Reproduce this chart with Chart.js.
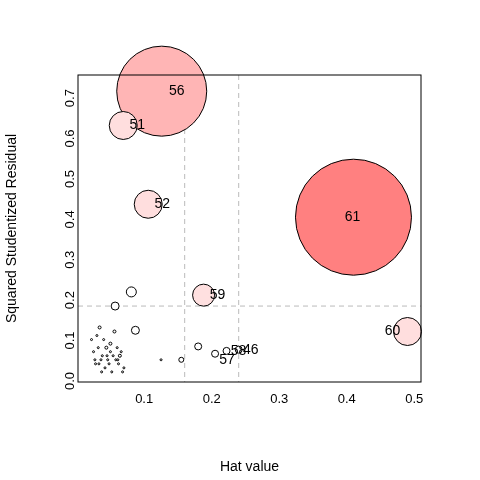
<!DOCTYPE html>
<html><head>
<script src="https://cdn.jsdelivr.net/npm/chart.js@4"></script>
<style>body{margin:0;background:#fff}</style>
</head><body>
<canvas id="c" width="480" height="480"></canvas>
<script>
// hat values, squared studentized residuals, cook's distance size, labels
let hat = [0.410, 0.126, 0.069, 0.106, 0.490, 0.188, 0.081, 0.057, 0.087, 0.180, 0.205, 0.222, 0.240, 0.155, 0.125,
    0.022, 0.025, 0.028, 0.030, 0.032, 0.034, 0.036, 0.038, 0.040, 0.042, 0.044, 0.046, 0.048, 0.050, 0.052,
    0.054, 0.056, 0.058, 0.060, 0.062, 0.064, 0.066, 0.068, 0.070, 0.045, 0.037, 0.027, 0.033, 0.050, 0.061];
let rstud2 = [0.383, 0.695, 0.610, 0.415, 0.100, 0.190, 0.198, 0.163, 0.103, 0.063, 0.045, 0.052, 0.055, 0.030, 0.030,
    0.08, 0.05, 0.02, 0.09, 0.06, 0.11, 0.03, 0.04, 0.08, 0.01, 0.06, 0.03, 0.02, 0.07, 0.00,
    0.04, 0.10, 0.03, 0.06, 0.02, 0.04, 0.05, 0.00, 0.01, 0.04, 0.00, 0.03, 0.02, 0.05, 0.03];
let cookD = [58, 45, 14, 14, 14, 11, 5, 4, 4, 3.5, 3.5, 3.5, 3.5, 2.5, 1,
    1, 1, 1, 1, 1, 1.5, 1, 1, 1, 1, 1.5, 1, 1, 1.5, 1,
    1, 1.5, 1, 1, 1, 1.5, 1, 1, 1, 1, 1, 1, 1, 1, 1];
let labels = ['61', '56', '51', '52', '60', '59', '', '', '', '', '57', '58', '46'];
let labelDx = [-1, 15, 14, 14, -15, 14, 0, 0, 0, 0, 12, 12, 12];
let xTicks = [0.1, 0.2, 0.3, 0.4, 0.5];
let yTicks = [0.0, 0.1, 0.2, 0.3, 0.4, 0.5, 0.6, 0.7];
let fills = ['#FF8080', '#FFB5B5', '#FFDEDE', '#FFDEDE', '#FFDEDE', '#FFE0E0'];

let pts = [];
for (let i = 0; i < hat.length; i++) {
    pts.push({x: hat[i], y: rstud2[i], r: cookD[i]});
}

const refLines = {
    id: 'refLines',
    beforeDatasetsDraw(chart) {
        let c = chart.ctx, xs = chart.scales.x, ys = chart.scales.y, a = chart.chartArea;
        c.save();
        c.strokeStyle = '#bbbbbb';
        c.setLineDash([5, 4]);
        [0.16, 0.24].forEach(v => {
            c.beginPath(); c.moveTo(xs.getPixelForValue(v), a.top); c.lineTo(xs.getPixelForValue(v), a.bottom); c.stroke();
        });
        c.beginPath(); c.moveTo(a.left, ys.getPixelForValue(0.163)); c.lineTo(a.right, ys.getPixelForValue(0.163)); c.stroke();
        c.restore();
    },
    afterDatasetsDraw(chart) {
        let c = chart.ctx, xs = chart.scales.x, ys = chart.scales.y, a = chart.chartArea;
        c.save();
        c.font = '14px Arial';
        c.fillStyle = '#000';
        c.textBaseline = 'middle';
        c.textAlign = 'center';
        for (let i = 0; i < labels.length; i++) {
            if (!labels[i]) continue;
            c.fillText(labels[i], xs.getPixelForValue(hat[i]) + labelDx[i],
                ys.getPixelForValue(rstud2[i]) + (i == 10 ? 6 : 0));
        }
        c.strokeStyle = '#000';
        c.lineWidth = 1;
        c.strokeRect(a.left, a.top, a.right - a.left, a.bottom - a.top);
        c.restore();
    }
};

new Chart(document.getElementById('c'), {
    type: 'bubble',
    data: {
        datasets: [{
            data: pts,
            backgroundColor: pts.map((p, i) => fills[i] || '#ffffff'),
            borderColor: '#000',
            borderWidth: 1,
            clip: false
        }]
    },
    options: {
        responsive: false,
        animation: false,
        layout: {padding: {top: 75, right: 40}},
        plugins: {legend: {display: false}, tooltip: {enabled: false}},
        scales: {
            x: {
                min: 0.002, max: 0.51,
                grid: {display: false, drawTicks: false},
                border: {display: false},
                afterFit(s) { s.height = 98; },
                afterBuildTicks(s) { s.ticks = xTicks.map(v => ({value: v})); },
                ticks: {padding: 10, color: '#000', font: {family: 'Arial', size: 13},
                    callback: v => v.toFixed(1)},
                title: {display: true, text: 'Hat value', color: '#000', font: {family: 'Arial', size: 14}, padding: {top: 10}}
            },
            y: {
                min: -0.025, max: 0.735,
                grid: {display: false, drawTicks: false},
                border: {display: false},
                afterFit(s) { s.width = 78; },
                afterBuildTicks(s) { s.ticks = yTicks.map(v => ({value: v})); },
                ticks: {padding: 8, color: '#000', minRotation: 90, maxRotation: 90,
                    font: {family: 'Arial', size: 13}, callback: v => v.toFixed(1)},
                title: {display: true, text: 'Squared Studentized Residual', color: '#000', font: {family: 'Arial', size: 14}}
            }
        }
    },
    plugins: [refLines]
});
</script>
</body></html>
